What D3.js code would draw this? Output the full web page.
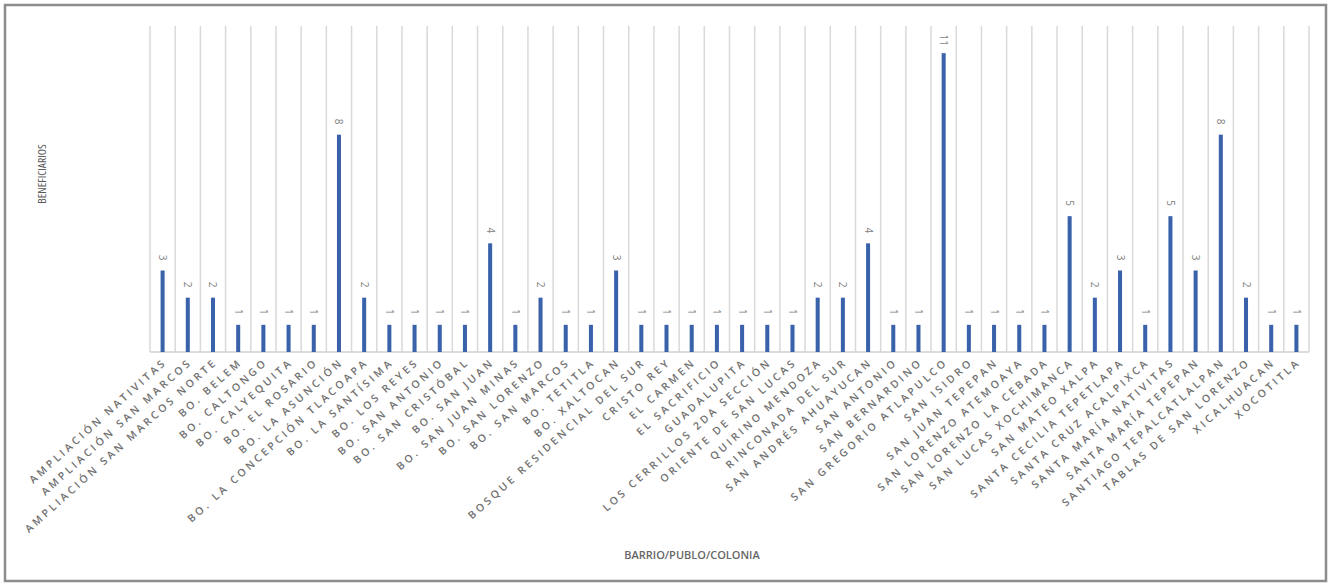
<!DOCTYPE html>
<html><head><meta charset="utf-8">
<script src="https://cdn.jsdelivr.net/npm/d3@7"></script>
<style>
html,body{margin:0;padding:0;background:#fff;}
svg text{font-family:"Open Sans","Liberation Sans",sans-serif;}
</style></head>
<body>
<svg id="chart" width="1331" height="584"></svg>
<script>
const categories = [
"AMPLIACIÓN NATIVITAS","AMPLIACIÓN SAN MARCOS","AMPLIACIÓN SAN MARCOS NORTE","BO. BELEM","BO. CALTONGO",
"BO. CALYEQUITA","BO. EL ROSARIO","BO. LA ASUNCIÓN","BO. LA CONCEPCIÓN TLACOAPA","BO. LA SANTÍSIMA",
"BO. LOS REYES","BO. SAN ANTONIO","BO. SAN CRISTÓBAL","BO. SAN JUAN","BO. SAN JUAN MINAS",
"BO. SAN LORENZO","BO. SAN MARCOS","BO. TETITLA","BO. XALTOCAN","BOSQUE RESIDENCIAL DEL SUR",
"CRISTO REY","EL CARMEN","EL SACRIFICIO","GUADALUPITA","LOS CERRILLOS 2DA SECCIÓN",
"ORIENTE DE SAN LUCAS","QUIRINO MENDOZA","RINCONADA DEL SUR","SAN ANDRÉS AHUAYUCAN","SAN ANTONIO",
"SAN BERNARDINO","SAN GREGORIO ATLAPULCO","SAN ISIDRO","SAN JUAN TEPEPAN","SAN LORENZO ATEMOAYA",
"SAN LORENZO LA CEBADA","SAN LUCAS XOCHIMANCA","SAN MATEO XALPA","SANTA CECILIA TEPETLAPA","SANTA CRUZ ACALPIXCA",
"SANTA MARÍA NATIVITAS","SANTA MARÍA TEPEPAN","SANTIAGO TEPALCATLALPAN","TABLAS DE SAN LORENZO","XICALHUACAN",
"XOCOTITLA"];
const beneficiarios = [3,2,2,1,1,1,1,8,2,1,1,1,1,4,1,2,1,1,3,1,1,1,1,1,1,1,2,2,4,1,1,11,1,1,1,1,5,2,3,1,5,3,8,2,1,1];
const yDomain = [0, 12];
const yTitle = "BENEFICIARIOS";
const xTitle = "BARRIO/PUBLO/COLONIA";

const svg = d3.select("#chart");
const mLeft = 150, mRight = 1309, mTop = 26, mBottom = 352;

// chart border
svg.append("rect").attr("x",5).attr("y",5).attr("width",1321).attr("height",576)
  .attr("fill","#fff").attr("stroke","#8c8c8c").attr("stroke-width",2.5);

const x = d3.scaleBand().domain(categories).range([mLeft,mRight]).paddingInner(0.84).paddingOuter(0.42);
const xb = d3.scaleBand().domain(categories).range([mLeft,mRight]).padding(0);
const y = d3.scaleLinear().domain(yDomain).range([mBottom,mTop]);

// vertical gridlines at category boundaries
const bounds = categories.map(c=>xb(c)).concat([xb.range()[1]]);
svg.append("g").selectAll("line").data(bounds).join("line")
  .attr("x1",d=>d).attr("x2",d=>d).attr("y1",y(yDomain[1])).attr("y2",y(0))
  .attr("stroke","#d9d9d9").attr("stroke-width",1.5);

// baseline
svg.append("line").attr("x1",mLeft).attr("x2",mRight).attr("y1",y(0)).attr("y2",y(0))
  .attr("stroke","#d0d0d0").attr("stroke-width",1.5);

// bars
svg.append("g").selectAll("rect").data(categories).join("rect")
  .attr("x",(d)=>x(d)).attr("width",x.bandwidth())
  .attr("y",(d,i)=>y(beneficiarios[i])).attr("height",(d,i)=>y(0)-y(beneficiarios[i]))
  .attr("fill","#3a62ab");

// value labels (rotated)
svg.append("g").selectAll("text").data(categories).join("text")
  .attr("transform",(d,i)=>`translate(${x(d)+x.bandwidth()/2},${y(beneficiarios[i])-13}) rotate(90)`)
  .attr("text-anchor","middle").attr("dy","0.35em")
  .attr("font-size",10).attr("fill","#7f7f7f")
  .text((d,i)=>beneficiarios[i]);

// x tick labels
svg.append("g").selectAll("text").data(categories).join("text")
  .attr("transform",d=>`translate(${x(d)+x.bandwidth()/2+5},${mBottom+11}) rotate(-42)`)
  .attr("text-anchor","end")
  .attr("font-size",10.5).attr("font-weight",600).attr("letter-spacing","3px").attr("fill","#707070")
  .text(d=>d);

// axis titles
svg.append("text").attr("transform",`translate(46,174) rotate(-90)`)
  .attr("text-anchor","middle").attr("font-size",11.5).attr("fill","#595959")
  .attr("font-stretch","condensed").text(yTitle);
svg.append("text").attr("x",692).attr("y",559).attr("text-anchor","middle")
  .attr("font-size",11).attr("font-weight",600).attr("fill","#666").text(xTitle);
</script>
</body></html>
